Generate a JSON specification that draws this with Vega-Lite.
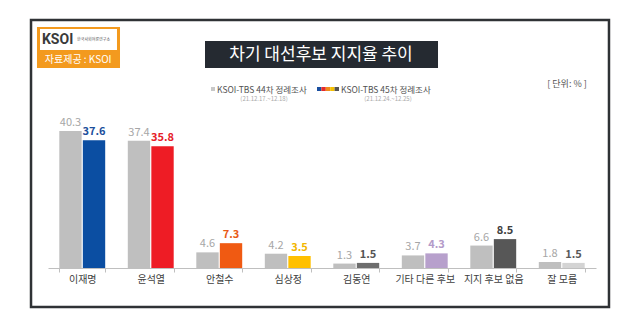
{
  "$schema": "https://vega.github.io/schema/vega-lite/v6.json",
  "width": 548,
  "height": 170,
  "autosize": "none",
  "padding": {"left": 48, "top": 98, "right": 44, "bottom": 67},
  "background": "white",
  "config": {"view": {"stroke": null}, "font": "Noto Sans CJK KR", "text": {"font": "Noto Sans CJK KR"}},
  "layer": [
    {
      "data": {"values": [
        {"cand": "이재명", "wave": "44차", "value": 40.3},
        {"cand": "이재명", "wave": "45차", "value": 37.6},
        {"cand": "윤석열", "wave": "44차", "value": 37.4},
        {"cand": "윤석열", "wave": "45차", "value": 35.8},
        {"cand": "안철수", "wave": "44차", "value": 4.6},
        {"cand": "안철수", "wave": "45차", "value": 7.3},
        {"cand": "심상정", "wave": "44차", "value": 4.2},
        {"cand": "심상정", "wave": "45차", "value": 3.5},
        {"cand": "김동연", "wave": "44차", "value": 1.3},
        {"cand": "김동연", "wave": "45차", "value": 1.5},
        {"cand": "기타 다른 후보", "wave": "44차", "value": 3.7},
        {"cand": "기타 다른 후보", "wave": "45차", "value": 4.3},
        {"cand": "지지 후보 없음", "wave": "44차", "value": 6.6},
        {"cand": "지지 후보 없음", "wave": "45차", "value": 8.5},
        {"cand": "잘 모름", "wave": "44차", "value": 1.8},
        {"cand": "잘 모름", "wave": "45차", "value": 1.5}
      ]},
      "encoding": {
        "x": {"field": "cand", "type": "nominal", "sort": null,
          "scale": {"paddingInner": 0.33, "paddingOuter": 0.165},
          "axis": {"title": null, "labelAngle": 0, "labelFont": "Noto Sans CJK KR", "labelFontSize": 10, "labelColor": "#404040",
            "domainColor": "#bfbfbf", "tickColor": "#bfbfbf", "tickSize": 4, "tickBand": "extent", "labelPadding": 2}},
        "xOffset": {"field": "wave", "type": "nominal", "scale": {"paddingInner": 0.05}},
        "y": {"field": "value", "type": "quantitative", "scale": {"domain": [0, 50], "nice": false}, "axis": null}
      },
      "layer": [
        {
          "mark": {"type": "bar"},
          "encoding": {
            "color": {"condition": {"test": "datum.wave === '44차'", "value": "#bfbfbf"},
              "field": "cand", "type": "nominal", "sort": null,
              "scale": {"domain": ["이재명", "윤석열", "안철수", "심상정", "김동연", "기타 다른 후보", "지지 후보 없음", "잘 모름"],
                "range": ["#0b4ea2", "#ee1c25", "#f05a12", "#ffc000", "#6d6d6d", "#b7a0cc", "#575757", "#d4d4d4"]},
              "legend": null}
          }
        },
        {
          "transform": [{"filter": "datum.wave === '44차'"}],
          "mark": {"type": "text", "baseline": "bottom", "dy": -3, "fontSize": 11, "color": "#a6a6a6"},
          "encoding": {"text": {"field": "value", "type": "quantitative", "format": ".1f"}}
        },
        {
          "transform": [{"filter": "datum.wave === '45차'"}],
          "mark": {"type": "text", "baseline": "bottom", "dy": -3, "fontSize": 11, "fontWeight": "bold"},
          "encoding": {
            "text": {"field": "value", "type": "quantitative", "format": ".1f"},
            "color": {"field": "cand", "type": "nominal", "sort": null,
              "scale": {"domain": ["이재명", "윤석열", "안철수", "심상정", "김동연", "기타 다른 후보", "지지 후보 없음", "잘 모름"],
                "range": ["#1d4f9c", "#e62129", "#e85a17", "#f2b600", "#555555", "#b39bc9", "#404040", "#595959"]},
              "legend": null}
          }
        }
      ],
      "resolve": {"scale": {"color": "independent"}}
    },
    {
      "data": {"values": [{"x1": -3.1, "x2": 102.37, "y1": 72.94, "y2": -11.47}]},
      "mark": {"type": "rect", "filled": false, "stroke": "#2f3235", "strokeWidth": 2.5},
      "encoding": {
        "x": {"field": "x1", "type": "quantitative", "scale": {"domain": [0, 100], "nice": false, "zero": false}, "axis": null},
        "x2": {"field": "x2"},
        "y": {"field": "y1", "type": "quantitative", "scale": {"domain": [0, 50], "nice": false, "zero": false}, "axis": null},
        "y2": {"field": "y2"}
      }
    },
    {
      "data": {"values": [
        {"part": "title", "x1": 28.65, "x2": 71.17, "y1": 66.76, "y2": 58.82},
        {"part": "logo", "x1": -2.01, "x2": 13.14, "y1": 70.88, "y2": 58.82},
        {"part": "logoInner", "x1": -1.46, "x2": 12.59, "y1": 70.29, "y2": 64.12},
        {"part": "g", "x1": 29.74, "x2": 30.47, "y1": 53.24, "y2": 52.06},
        {"part": "b", "x1": 49.09, "x2": 49.89, "y1": 53.24, "y2": 52.06},
        {"part": "r", "x1": 49.89, "x2": 50.69, "y1": 53.24, "y2": 52.06},
        {"part": "o", "x1": 50.69, "x2": 51.5, "y1": 53.24, "y2": 52.06},
        {"part": "y", "x1": 51.5, "x2": 52.3, "y1": 53.24, "y2": 52.06},
        {"part": "d", "x1": 52.3, "x2": 53.1, "y1": 53.24, "y2": 52.06}
      ]},
      "mark": {"type": "rect"},
      "encoding": {
        "x": {"field": "x1", "type": "quantitative", "scale": {"domain": [0, 100], "nice": false, "zero": false}, "axis": null},
        "x2": {"field": "x2"},
        "y": {"field": "y1", "type": "quantitative", "scale": {"domain": [0, 50], "nice": false, "zero": false}, "axis": null},
        "y2": {"field": "y2"},
        "color": {"field": "part", "type": "nominal", "legend": null,
          "scale": {"domain": ["title", "logo", "logoInner", "g", "b", "r", "o", "y", "d"],
            "range": ["#252a31", "#f39a1e", "#ffffff", "#c8c8c8", "#1a4fa0", "#e52a2a", "#f08a1a", "#f5c000", "#555555"]}}
      }
    },
    {
      "data": {"values": [{"t": "차기 대선후보 지지율 추이", "x": 49.82, "y": 62.65}]},
      "mark": {"type": "text", "fontSize": 17, "color": "#ffffff", "align": "center", "baseline": "middle"},
      "encoding": {
        "x": {"field": "x", "type": "quantitative", "scale": {"domain": [0, 100], "nice": false, "zero": false}, "axis": null},
        "y": {"field": "y", "type": "quantitative", "scale": {"domain": [0, 50], "nice": false, "zero": false}, "axis": null},
        "text": {"field": "t"}
      }
    },
    {
      "data": {"values": [
        {"t": "KSOI-TBS 44차 정례조사", "x": 30.84, "y": 52.35},
        {"t": "KSOI-TBS 45차 정례조사", "x": 53.47, "y": 52.35}
      ]},
      "mark": {"type": "text", "fontSize": 8.5, "color": "#505050", "align": "left", "baseline": "middle"},
      "encoding": {
        "x": {"field": "x", "type": "quantitative", "scale": {"domain": [0, 100], "nice": false, "zero": false}, "axis": null},
        "y": {"field": "y", "type": "quantitative", "scale": {"domain": [0, 50], "nice": false, "zero": false}, "axis": null},
        "text": {"field": "t"}
      }
    },
    {
      "data": {"values": [
        {"t": "(21.12.17.~12.18)", "x": 39.42, "y": 49.7},
        {"t": "(21.12.24.~12.25)", "x": 62.04, "y": 49.7}
      ]},
      "mark": {"type": "text", "fontSize": 6, "color": "#aaaaaa", "align": "center", "baseline": "middle"},
      "encoding": {
        "x": {"field": "x", "type": "quantitative", "scale": {"domain": [0, 100], "nice": false, "zero": false}, "axis": null},
        "y": {"field": "y", "type": "quantitative", "scale": {"domain": [0, 50], "nice": false, "zero": false}, "axis": null},
        "text": {"field": "t"}
      }
    },
    {
      "data": {"values": [{"t": "[ 단위: % ]", "x": 94.71, "y": 54.12}]},
      "mark": {"type": "text", "fontSize": 9, "color": "#555555", "align": "center", "baseline": "middle"},
      "encoding": {
        "x": {"field": "x", "type": "quantitative", "scale": {"domain": [0, 100], "nice": false, "zero": false}, "axis": null},
        "y": {"field": "y", "type": "quantitative", "scale": {"domain": [0, 50], "nice": false, "zero": false}, "axis": null},
        "text": {"field": "t"}
      }
    },
    {
      "data": {"values": [{"t": "KSOI", "x": -1.1, "y": 67.2}]},
      "mark": {"type": "text", "fontSize": 14, "fontWeight": "bold", "color": "#3a3a3a", "align": "left", "baseline": "middle", "font": "Roboto"},
      "encoding": {
        "x": {"field": "x", "type": "quantitative", "scale": {"domain": [0, 100], "nice": false, "zero": false}, "axis": null},
        "y": {"field": "y", "type": "quantitative", "scale": {"domain": [0, 50], "nice": false, "zero": false}, "axis": null},
        "text": {"field": "t"}
      }
    },
    {
      "data": {"values": [{"t": "한국사회여론연구소", "x": 5.3, "y": 67.2}]},
      "mark": {"type": "text", "fontSize": 4, "color": "#555555", "align": "left", "baseline": "middle"},
      "encoding": {
        "x": {"field": "x", "type": "quantitative", "scale": {"domain": [0, 100], "nice": false, "zero": false}, "axis": null},
        "y": {"field": "y", "type": "quantitative", "scale": {"domain": [0, 50], "nice": false, "zero": false}, "axis": null},
        "text": {"field": "t"}
      }
    },
    {
      "data": {"values": [{"t": "자료제공 : KSOI", "x": 5.5, "y": 61.3}]},
      "mark": {"type": "text", "fontSize": 10, "color": "#ffffff", "align": "center", "baseline": "middle"},
      "encoding": {
        "x": {"field": "x", "type": "quantitative", "scale": {"domain": [0, 100], "nice": false, "zero": false}, "axis": null},
        "y": {"field": "y", "type": "quantitative", "scale": {"domain": [0, 50], "nice": false, "zero": false}, "axis": null},
        "text": {"field": "t"}
      }
    }
  ],
  "resolve": {"scale": {"x": "independent", "y": "independent", "color": "independent"}}
}
